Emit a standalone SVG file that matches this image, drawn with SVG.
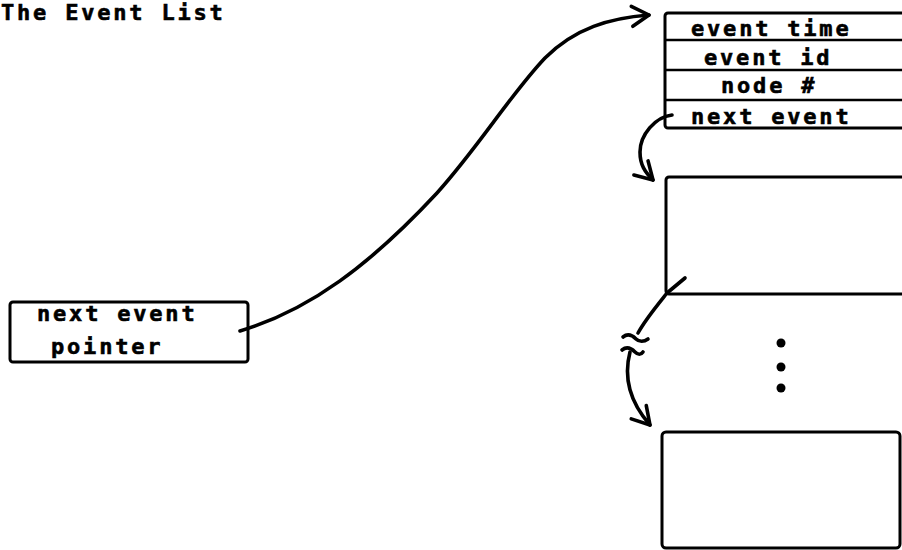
<svg xmlns="http://www.w3.org/2000/svg" width="902" height="550" viewBox="0 0 902 550">
<style>
  .t { font-family: "DejaVu Sans Mono", "Liberation Mono", monospace; font-weight: bold; font-size: 22px; letter-spacing: 2.8px; fill: #000; stroke: #000; stroke-width: 0.6; }
  .box { fill: none; stroke: #000; stroke-width: 3; }
  .row { stroke: #000; stroke-width: 2.6; }
  .conn { fill: none; stroke: #000; stroke-width: 3.6; stroke-linecap: round; stroke-linejoin: round; }
</style>
<defs>
  <marker id="arr" markerUnits="userSpaceOnUse" markerWidth="40" markerHeight="40" refX="0" refY="0" viewBox="-25 -20 40 40" orient="auto" overflow="visible">
    <path d="M-17,-10 L0,0 L-17,10" fill="none" stroke="#000" stroke-width="3.6" stroke-linecap="round" stroke-linejoin="round"/>
  </marker>
</defs>
<rect width="902" height="550" fill="#fff"/>

<g id="title">
  <text class="t" x="1" y="20">The Event List</text>
</g>

<g id="node-event-record">
  <rect class="box" x="665" y="13" width="250" height="115" rx="3"/>
  <line class="row" x1="665" y1="40" x2="902" y2="40"/>
  <line class="row" x1="665" y1="70" x2="902" y2="70"/>
  <line class="row" x1="665" y1="100" x2="902" y2="100"/>
  <text class="t" x="691" y="36">event time</text>
  <text class="t" x="704" y="65">event id</text>
  <text class="t" x="721" y="93">node #</text>
  <text class="t" x="691" y="124">next event</text>
</g>

<g id="node-second-event">
  <rect class="box" x="666" y="177" width="250" height="117" rx="3"/>
</g>

<g id="ellipsis">
  <circle cx="781" cy="343" r="4.5"/>
  <circle cx="781" cy="367" r="4.5"/>
  <circle cx="781" cy="388" r="4.5"/>
</g>

<g id="node-last-event">
  <rect class="box" x="662" y="432" width="238" height="116" rx="4"/>
</g>

<g id="node-next-event-pointer">
  <rect class="box" x="10" y="302" width="238" height="60" rx="3"/>
  <text class="t" x="37" y="321">next event</text>
  <text class="t" x="51" y="354">pointer</text>
</g>

<g id="connectors">
  <path class="conn" marker-end="url(#arr)" d="M240,331 C310,310 370,265 437,193 C480,145 510,95 545,58 C575,28 610,18 649,15"/>
  <path class="conn" marker-end="url(#arr)" d="M672,115 C655,117 640,135 640,152 C640,165 645,172 653,180"/>
  <path class="conn" d="M685,278 L667,293 C655,308 645,320 638,333"/>
  <path class="conn" stroke-width="2.8" d="M623,337 C628,333 633,336 636,339 C639,342 644,342 648,339"/>
  <path class="conn" stroke-width="2.8" d="M622,350 C627,346 632,349 635,352 C638,355 641,355 643,352"/>
  <path class="conn" marker-end="url(#arr)" d="M630,352 C624,375 628,400 650,425"/>
</g>
</svg>
